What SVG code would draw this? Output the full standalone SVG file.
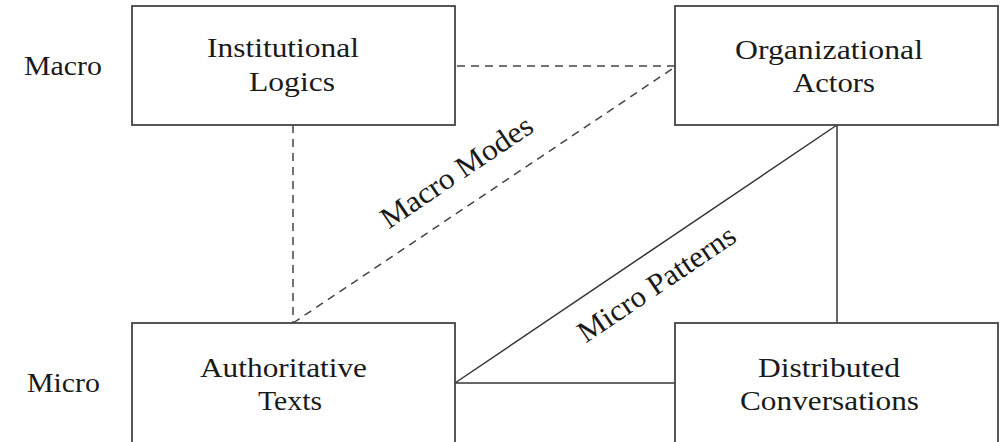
<svg xmlns="http://www.w3.org/2000/svg" width="1007" height="442" viewBox="0 0 1007 442">
<style>
.box{fill:#fff;stroke:#444;stroke-width:1.8}
.t{font-family:"Liberation Serif","Times New Roman",serif;font-size:28px;fill:#1a1a1a}
.r{font-size:30px}
.c{text-anchor:middle}
.dash{fill:none;stroke:#444;stroke-width:1.5;stroke-dasharray:8 6}
.solid{fill:none;stroke:#333;stroke-width:1.5}
</style>
<rect width="1007" height="442" fill="#fff"/>
<g id="connectors">
<line class="dash" x1="457" y1="66" x2="675" y2="66"/>
<line class="dash" x1="293" y1="125" x2="293" y2="323"/>
<line class="dash" x1="293" y1="323" x2="675" y2="67"/>
<line class="solid" x1="837" y1="125" x2="837" y2="323"/>
<line class="solid" x1="455" y1="383" x2="837" y2="125"/>
<line class="solid" x1="455" y1="383" x2="675" y2="383"/>
<text class="t r c" transform="translate(462,180) rotate(-34)" textLength="177" lengthAdjust="spacingAndGlyphs">Macro Modes</text>
<text class="t r c" transform="translate(662,292) rotate(-34)" textLength="184" lengthAdjust="spacingAndGlyphs">Micro Patterns</text>
</g>
<g id="label-macro">
<text class="t" x="24" y="75" textLength="78" lengthAdjust="spacingAndGlyphs">Macro</text>
</g>
<g id="label-micro">
<text class="t" x="27" y="392" textLength="73" lengthAdjust="spacingAndGlyphs">Micro</text>
</g>
<g id="institutional-logics">
<rect class="box" x="132" y="6" width="323" height="119"/>
<text class="t" x="207" y="57" textLength="152" lengthAdjust="spacingAndGlyphs">Institutional</text>
<text class="t" x="249" y="91" textLength="86" lengthAdjust="spacingAndGlyphs">Logics</text>
</g>
<g id="organizational-actors">
<rect class="box" x="675" y="6" width="323" height="119"/>
<text class="t" x="735" y="59" textLength="188" lengthAdjust="spacingAndGlyphs">Organizational</text>
<text class="t" x="793" y="92" textLength="82" lengthAdjust="spacingAndGlyphs">Actors</text>
</g>
<g id="authoritative-texts">
<rect class="box" x="132" y="323" width="323" height="121"/>
<text class="t" x="200" y="377" textLength="167" lengthAdjust="spacingAndGlyphs">Authoritative</text>
<text class="t" x="258" y="410" textLength="64" lengthAdjust="spacingAndGlyphs">Texts</text>
</g>
<g id="distributed-conversations">
<rect class="box" x="675" y="323" width="323" height="121"/>
<text class="t" x="758" y="377" textLength="142" lengthAdjust="spacingAndGlyphs">Distributed</text>
<text class="t" x="740" y="410" textLength="179" lengthAdjust="spacingAndGlyphs">Conversations</text>
</g>
</svg>
